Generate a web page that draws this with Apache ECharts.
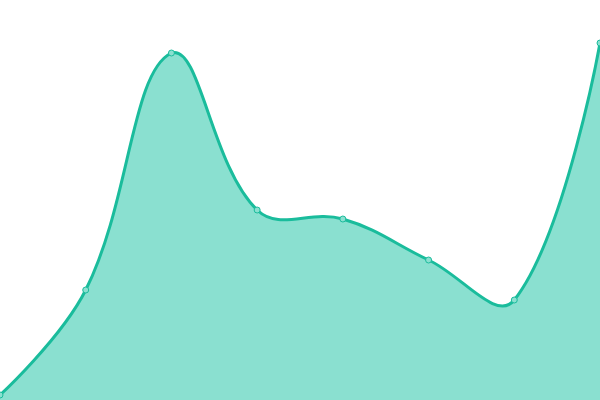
<!DOCTYPE html>
<html><head><meta charset="utf-8">
<script src="https://cdn.jsdelivr.net/npm/echarts@6/dist/echarts.min.js"></script>
<style>html,body{margin:0;padding:0;background:#fff}#c{width:600px;height:400px}</style>
</head><body><div id="c"></div>
<script>
const categories = ['1','2','3','4','5','6','7','8'];
const values = [5, 110, 347, 190, 181, 140, 100, 357];
const SMOOTH = 0.4;
const LINE = '#1abc9c', FILL = '#8ae0d0';

function buildPaths(pts, base) {
  const n = pts.length;
  const xs = pts.map(p => p[0]), ys = pts.map(p => p[1]);
  const minX = Math.min(...xs), maxX = Math.max(...xs), minY = Math.min(...ys), maxY = Math.max(...ys);
  const clamp = c => [Math.min(maxX, Math.max(minX, c[0])), Math.min(maxY, Math.max(minY, c[1]))];
  const cps = pts.map((p, i) => {
    if (i === 0 || i === n - 1) return [p.slice(), p.slice()];
    const prev = pts[i - 1], next = pts[i + 1];
    const vx = next[0] - prev[0], vy = next[1] - prev[1];
    const lp = Math.hypot(p[0] - prev[0], p[1] - prev[1]);
    const ln = Math.hypot(next[0] - p[0], next[1] - p[1]);
    const r = ln / (ln + lp);
    return [clamp([p[0] - vx * SMOOTH * (1 - r), p[1] - vy * SMOOTH * (1 - r)]),
            clamp([p[0] + vx * SMOOTH * r, p[1] + vy * SMOOTH * r])];
  });
  let d = 'M' + pts[0][0] + ' ' + pts[0][1];
  for (let i = 0; i < n - 1; i++) {
    const a = cps[i][1], b = cps[i + 1][0], q = pts[i + 1];
    d += ' C' + a[0] + ' ' + a[1] + ' ' + b[0] + ' ' + b[1] + ' ' + q[0] + ' ' + q[1];
  }
  const area = d + ' L' + base[n - 1][0] + ' ' + base[n - 1][1] + ' L' + base[0][0] + ' ' + base[0][1] + ' Z';
  return {line: d, area: area};
}

const chart = echarts.init(document.getElementById('c'));
chart.setOption({
  animation: false,
  grid: {left: 0, right: 0, top: 0, bottom: 0},
  xAxis: {type: 'category', data: categories, boundaryGap: false, show: false},
  yAxis: {type: 'value', min: 0, max: 400, show: false},
  series: [{
    type: 'custom',
    data: [[0, 0]],
    clip: false,
    renderItem: function (params, api) {
      const pts = values.map((v, i) => api.coord([i, v]));
      const base = values.map((v, i) => api.coord([i, 0]));
      const p = buildPaths(pts, base);
      return {type: 'group', children: [
        {type: 'path', shape: {pathData: p.area}, style: {fill: FILL, stroke: null}},
        {type: 'path', shape: {pathData: p.line}, style: {fill: null, stroke: LINE, lineWidth: 3}}
      ]};
    }
  }, {
    type: 'line',
    data: values,
    z: 5,
    symbol: 'circle',
    symbolSize: 6,
    lineStyle: {opacity: 0},
    itemStyle: {color: FILL, borderColor: LINE, borderWidth: 1}
  }]
});
</script></body></html>
